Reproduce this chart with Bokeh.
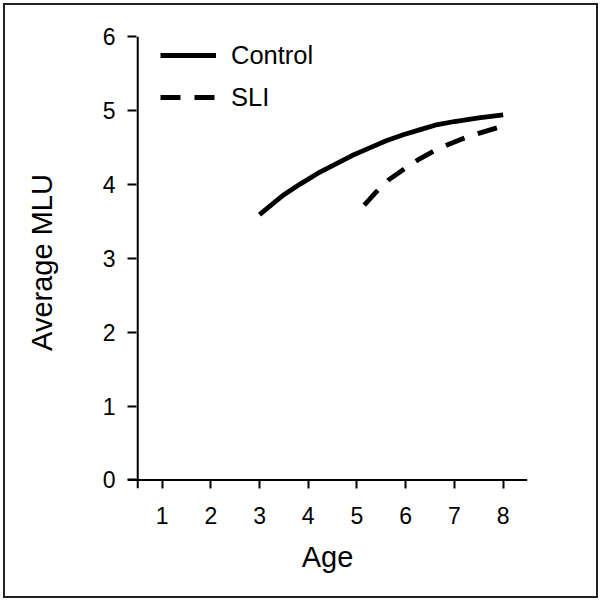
from bokeh.plotting import figure
from bokeh.models import Span, Legend, LegendItem, FixedTicker, Range1d
from bokeh.embed import file_html
from bokeh.resources import INLINE

# Data
control_age = [3.0, 3.5, 3.85, 4.2, 4.55, 4.9, 5.25, 5.6, 5.95, 6.3, 6.6, 7.0, 7.5, 8.0]
control_mlu = [3.59, 3.86, 4.01, 4.15, 4.27, 4.39, 4.49, 4.59, 4.67, 4.74, 4.80, 4.85, 4.90, 4.94]
sli_age = [5.15, 5.4, 5.65, 6.0, 6.25, 6.6, 6.95, 7.3, 7.65, 8.0]
sli_mlu = [3.72, 3.90, 4.06, 4.22, 4.33, 4.46, 4.56, 4.65, 4.72, 4.79]
x_ticks = [1, 2, 3, 4, 5, 6, 7, 8]
y_ticks = [0, 1, 2, 3, 4, 5, 6]
series_names = ["Control", "SLI"]

FONT = "Liberation Sans"

p = figure(width=595, height=595, output_backend="svg", toolbar_location=None,
           x_range=Range1d(0.29, 8.5), y_range=Range1d(-0.115, 6.0),
           min_border_left=122, min_border_right=73, min_border_top=31, min_border_bottom=112)
p.styles = {"border": "2px solid #222", "box-sizing": "border-box", "margin": "3px"}

p.grid.visible = False
p.outline_line_color = None
p.background_fill_color = "white"
p.border_fill_color = "white"

# axes
for ax in (p.xaxis[0], p.yaxis[0]):
    ax.axis_line_color = None
    ax.major_tick_out = 0
    ax.major_tick_in = 9
    ax.major_tick_line_width = 2
    ax.major_tick_line_color = "black"
    ax.minor_tick_line_color = None
    ax.major_label_text_font = FONT
    ax.major_label_text_font_size = "23px"
    ax.major_label_text_color = "black"
    ax.axis_label_text_font = FONT
    ax.axis_label_text_font_size = "29px"
    ax.axis_label_text_font_style = "normal"
    ax.axis_label_text_color = "black"

p.xaxis.ticker = FixedTicker(ticks=x_ticks)
p.yaxis.ticker = FixedTicker(ticks=y_ticks)
p.xaxis.axis_label = "Age"
p.yaxis.axis_label = "Average MLU"
p.xaxis.major_label_standoff = 18
p.xaxis.axis_label_standoff = 14
p.yaxis.major_label_standoff = 12
p.yaxis.axis_label_standoff = 42

# axis lines that cross with overhang
p.add_layout(Span(location=0.5, dimension="height", line_color="black", line_width=2))
p.add_layout(Span(location=0, dimension="width", line_color="black", line_width=2))

r1 = p.line(control_age, control_mlu, line_color="black", line_width=4.8, line_join="round")
r2 = p.line(sli_age, sli_mlu, line_color="black", line_width=4.8, line_dash="20 14",
            line_join="round")

legend = Legend(items=[LegendItem(label=series_names[0], renderers=[r1]),
                       LegendItem(label=series_names[1], renderers=[r2])],
                location=(33, 376), border_line_color=None, background_fill_alpha=0,
                padding=0, margin=0, spacing=12, glyph_width=56, glyph_height=30,
                label_height=30, label_standoff=15,
                label_text_font=FONT, label_text_font_size="25.5px", label_text_color="black")
p.add_layout(legend, "center")

open("out.html", "w").write(file_html(p, INLINE))
